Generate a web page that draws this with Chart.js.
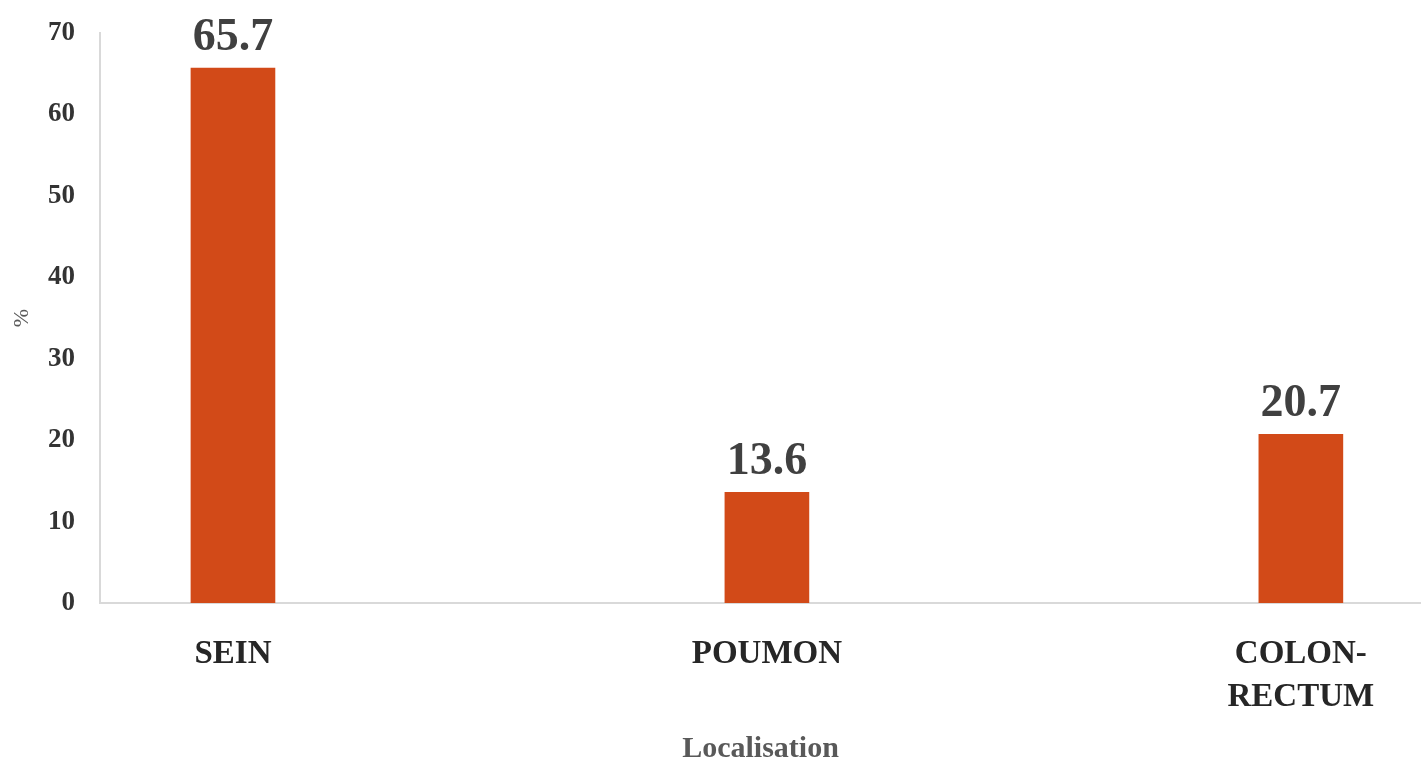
<!DOCTYPE html>
<html>
<head>
<meta charset="utf-8">
<script src="https://cdn.jsdelivr.net/npm/chart.js@4/dist/chart.umd.min.js"></script>
<style>
  html, body { margin: 0; padding: 0; background: #fff; }
  #wrap { width: 1421px; height: 764px; }
</style>
</head>
<body>
<div id="wrap"><canvas id="myBarChart"></canvas></div>
<script>
// data
const sites = [['SEIN'], ['POUMON'], ['COLON-', 'RECTUM']];
const shares = [65.7, 13.6, 20.7];
const yTicks = [0, 10, 20, 30, 40, 50, 60, 70];

const serif = '"Liberation Serif", "Times New Roman", serif';

// values written above each bar
const barLabels = {
    id: 'barLabels',
    afterDatasetsDraw(chart) {
        const ctx = chart.ctx;
        const meta = chart.getDatasetMeta(0);
        ctx.save();
        ctx.font = 'bold 46px ' + serif;
        ctx.fillStyle = '#404040';
        ctx.textAlign = 'center';
        ctx.textBaseline = 'alphabetic';
        meta.data.forEach(function (bar, i) {
            ctx.fillText(shares[i].toFixed(1), bar.x, bar.y - 18);
        });
        ctx.restore();
    }
};

document.addEventListener('DOMContentLoaded', function () {
    var ctx = document.getElementById('myBarChart').getContext('2d');
    var chart = new Chart(ctx, {
        type: 'bar',
        data: {
            datasets: [{
                label: '%',
                data: shares.map(function (v, i) { return { x: i, y: v }; }),
                backgroundColor: '#D24A18',
                borderWidth: 0,
                barThickness: 84
            }]
        },
        plugins: [barLabels],
        options: {
            responsive: true,
            maintainAspectRatio: false,
            animation: false,
            layout: { padding: { top: 33, right: 0, bottom: 0, left: 0 } },
            plugins: {
                legend: { display: false },
                tooltip: { enabled: false }
            },
            scales: {
                x: {
                    type: 'linear',
                    offset: false,
                    min: -0.249,
                    max: 2.225,
                    grid: { display: false, drawTicks: false },
                    border: { display: true, color: '#D9D9D9', width: 2 },
                    afterFit: function (scale) { scale.height = 161; },
                    ticks: {
                        stepSize: 1,
                        includeBounds: false,
                        autoSkip: false,
                        maxRotation: 0,
                        padding: 30,
                        color: '#262626',
                        font: { family: serif, size: 33, weight: 'bold', lineHeight: 1.3 },
                        callback: function (v) {
                            return Number.isInteger(v) && sites[v] ? sites[v] : '';
                        }
                    },
                    title: {
                        display: true,
                        text: 'Localisation',
                        color: '#595959',
                        font: { family: serif, size: 30, weight: 'bold', lineHeight: 1 },
                        padding: { top: 0, bottom: 0 }
                    }
                },
                y: {
                    min: 0,
                    max: 70,
                    afterBuildTicks: function (scale) {
                        scale.ticks = yTicks.map(function (v) { return { value: v }; });
                    },
                    afterFit: function (scale) {
                        scale.width = 100;
                        scale.paddingTop = 33;
                        scale.paddingBottom = 0;
                    },
                    grid: { display: false, drawTicks: false },
                    border: { display: true, color: '#D9D9D9', width: 2 },
                    ticks: {
                        padding: 25,
                        color: '#333333',
                        font: { family: serif, size: 27, weight: 'bold' }
                    },
                    title: {
                        display: true,
                        text: '%',
                        color: '#595959',
                        font: { family: serif, size: 22, lineHeight: 1.2 },
                        padding: { top: 9, bottom: 0 }
                    }
                }
            }
        }
    });
});
</script>
</body>
</html>
